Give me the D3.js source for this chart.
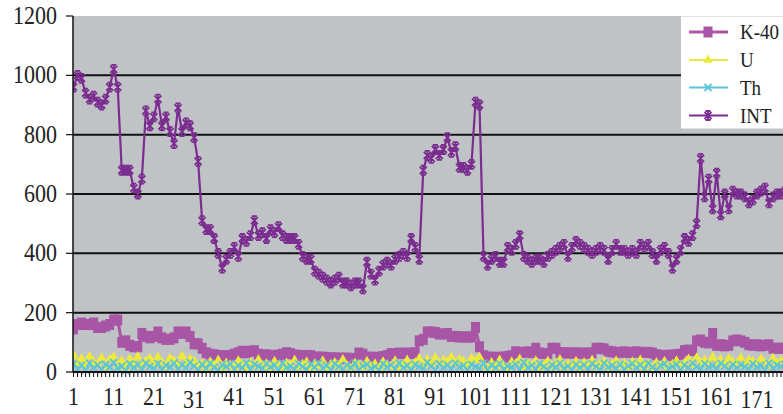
<!DOCTYPE html>
<html>
<head>
<meta charset="utf-8">
<script src="https://cdn.jsdelivr.net/npm/d3@7"></script>
<style>
  body { margin: 0; background: #fff; }
  svg { display: block; }
  text { font-family: "Liberation Serif", "Times New Roman", serif; fill: #222; }
</style>
</head>
<body>
<div id="chart"></div>
<script>
// sample numbers 1..178 (the chart is cut off on the right)
const categories = d3.range(1, 179);

const k40 = [
  145,160,165,160,160,165,150,150,155,160,
  175,175,100,105,90,85,85,130,120,115,
  120,135,115,110,110,115,135,130,135,120,
  95,95,80,65,60,58,55,55,55,55,
  60,65,70,65,70,72,60,55,58,56,
  55,57,60,65,62,57,56,55,56,55,
  50,50,50,48,48,47,47,46,47,45,
  46,64,60,50,50,48,50,52,55,62,
  62,64,62,64,62,65,105,110,135,135,
  133,128,128,130,120,120,118,118,118,118,
  150,85,55,50,50,48,50,50,52,55,
  68,66,66,68,65,80,64,62,62,80,
  80,65,65,64,64,64,64,62,64,64,
  80,80,78,70,68,66,66,68,66,66,
  68,66,66,66,64,58,56,56,56,57,
  58,60,72,74,72,105,108,100,98,130,
  90,92,88,90,105,108,105,100,92,90,
  92,88,90,92,80,80,80,80
];

const uVals = [
  58,30,45,22,52,34,26,48,18,42,
  50,24,38,15,44,28,52,20,36,46,
  25,50,32,18,46,38,22,54,30,44,
  36,20,28,12,34,22,40,14,30,24,
  16,38,26,10,32,20,42,18,28,12,
  36,22,14,30,24,40,16,26,34,12,
  28,20,38,14,26,32,18,42,22,12,
  30,24,16,36,20,28,14,34,24,18,
  38,14,26,40,20,32,46,24,42,30,
  48,26,40,34,50,28,44,36,22,46,
  38,50,24,14,32,18,40,22,12,34,
  28,44,16,30,20,38,14,26,36,18,
  30,42,16,28,22,36,12,32,24,40,
  18,28,36,14,26,38,20,30,16,34,
  24,40,18,28,12,32,22,36,16,26,
  38,20,30,44,24,48,32,40,26,50,
  30,42,24,46,34,28,48,22,40,36,
  26,44,32,20,46,30,38,24
];

const thVals = [
  28,10,22,6,30,14,24,8,26,16,
  32,12,20,5,27,15,25,9,30,18,
  12,28,8,22,16,30,10,24,14,32,
  20,8,26,12,30,16,6,24,18,28,
  10,22,14,30,8,26,18,12,28,16,
  24,6,30,14,20,10,28,18,8,26,
  16,30,12,22,6,28,18,10,24,14,
  30,8,20,26,12,18,6,28,16,24,
  10,30,14,22,8,26,18,12,32,20,
  6,28,14,24,10,30,16,22,8,26,
  18,12,30,6,24,14,28,10,20,16,
  26,8,32,14,22,10,28,18,6,24,
  16,30,12,20,8,26,14,24,10,28,
  18,6,30,16,22,12,26,8,20,28,
  14,24,10,30,16,6,22,28,12,18,
  26,8,24,14,30,18,10,28,16,22,
  12,30,20,8,26,14,24,18,10,28,
  16,22,6,30,12,24,18,26
];

const intVals = [
  960,1000,990,940,920,930,910,900,920,960,
  1020,960,680,680,680,620,600,650,880,830,
  860,920,830,860,810,770,890,810,840,830,
  790,710,510,480,480,450,400,350,380,400,
  420,390,450,440,460,510,460,470,450,480,
  470,490,460,450,450,450,430,390,380,380,
  340,330,320,310,300,310,320,300,300,290,
  300,300,280,370,330,310,340,360,370,360,
  380,390,400,390,450,420,380,680,730,720,
  750,730,750,790,740,760,690,690,680,700,
  910,900,390,360,380,390,370,370,420,410,
  430,460,390,380,370,380,380,370,390,400,
  410,420,430,390,420,440,430,420,410,400,
  410,420,410,380,410,430,410,410,400,410,
  400,430,420,430,400,380,410,420,400,350,
  380,410,450,440,460,500,720,590,650,550,
  670,530,600,550,610,600,600,590,570,580,
  600,610,620,570,590,600,600,610
];

const yTicks = [0, 200, 400, 600, 800, 1000, 1200];
const gridValues = [200, 400, 600, 800, 1000];
const xTickLabels = [1, 11, 21, 31, 41, 51, 61, 71, 81, 91, 101, 111, 121, 131, 141, 151, 161, 171];
const seriesNames = ["K-40", "U", "Th", "INT"];

const width = 783, height = 414;
const plotLeft = 73, plotTop = 16, plotRight = 783, plotBottom = 372;

const svg = d3.select("#chart").append("svg")
    .attr("width", width)
    .attr("height", height);

let x = d3.scalePoint()
    .domain(categories)
    .range([73.5, 73.5 + 177 * 4.02]);

let y = d3.scaleLinear()
    .domain([0, 1200])
    .range([plotBottom, plotTop]);

// gray plot area
svg.append("rect")
    .attr("x", plotLeft).attr("y", plotTop)
    .attr("width", plotRight - plotLeft).attr("height", plotBottom - plotTop)
    .attr("fill", "#c0c3c6");

svg.append("g").selectAll("line")
    .data(gridValues)
    .enter().append("line")
    .attr("x1", plotLeft).attr("x2", plotRight)
    .attr("y1", d => y(d)).attr("y2", d => y(d))
    .attr("stroke", "#111")
    .attr("stroke-width", 2);

// series
let series = [
    {name: "K-40", values: k40, color: "#a855a6", width: 3, marker: "square"},
    {name: "U", values: uVals, color: "#eeea3a", width: 1.8, marker: "triangle"},
    {name: "Th", values: thVals, color: "#5bc6d6", width: 1.8, marker: "cross"},
    {name: "INT", values: intVals, color: "#7b2d90", width: 2.2, marker: "star"}
];

function markerPath(type) {
    if (type === "square") return "M-4.5,-5.5H4.5V5.5H-4.5Z";
    if (type === "triangle") return d3.symbol().type(d3.symbolTriangle).size(40)();
    if (type === "cross") return "M-3.5,-3.5L3.5,3.5M-3.5,3.5L3.5,-3.5";
    return "M-3.5,-3.5L3.5,3.5M-3.5,3.5L3.5,-3.5M0,-4.5V4.5M-2.5,-4.5H2.5M-2.5,4.5H2.5";
}

svg.append("clipPath").attr("id", "plotclip")
    .append("rect")
    .attr("x", plotLeft).attr("y", 0)
    .attr("width", plotRight - plotLeft).attr("height", plotBottom + 6);

let plotG = svg.append("g").attr("clip-path", "url(#plotclip)");

series.forEach(function (s) {
    let line = d3.line()
        .x((d, i) => x(categories[i]))
        .y(d => y(d));

    plotG.append("path")
        .datum(s.values)
        .attr("fill", "none")
        .attr("stroke", s.color)
        .attr("stroke-width", s.width)
        .attr("d", line);

    let filled = s.marker === "square" || s.marker === "triangle";
    plotG.append("g").selectAll("path")
        .data(s.values)
        .enter().append("path")
        .attr("transform", (d, i) => "translate(" + x(categories[i]) + "," + y(d) + ")")
        .attr("d", markerPath(s.marker))
        .attr("fill", filled ? s.color : "none")
        .attr("stroke", s.color)
        .attr("stroke-width", filled ? 0 : 1.8);
});

// axes
svg.append("line")
    .attr("x1", plotLeft).attr("x2", plotLeft)
    .attr("y1", plotTop).attr("y2", plotBottom)
    .attr("stroke", "#111").attr("stroke-width", 1.5);

svg.append("line")
    .attr("x1", plotLeft).attr("x2", plotRight)
    .attr("y1", plotBottom).attr("y2", plotBottom)
    .attr("stroke", "#111").attr("stroke-width", 2);

let yAxis = svg.append("g");
yAxis.selectAll("line")
    .data(yTicks)
    .enter().append("line")
    .attr("x1", plotLeft - 7).attr("x2", plotLeft)
    .attr("y1", d => y(d)).attr("y2", d => y(d))
    .attr("stroke", "#111").attr("stroke-width", 1.2);

yAxis.selectAll("text")
    .data(yTicks)
    .enter().append("text")
    .attr("text-anchor", "end")
    .attr("transform", d => "translate(" + (plotLeft - 16) + "," + (y(d) + 8) + ") scale(1,1.1)")
    .style("font-size", "22px")
    .text(d => d);

// small ticks below every sample
svg.append("g").selectAll("line")
    .data(categories)
    .enter().append("line")
    .attr("x1", d => x(d)).attr("x2", d => x(d))
    .attr("y1", plotBottom).attr("y2", plotBottom + 5)
    .attr("stroke", "#111").attr("stroke-width", 1);

const lowered = [31, 171];
svg.append("g").selectAll("text")
    .data(xTickLabels)
    .enter().append("text")
    .attr("text-anchor", "middle")
    .attr("transform", d => "translate(" + x(d) + "," + (lowered.includes(d) ? 408 : 404.5) + ") scale(1,1.1)")
    .style("font-size", "22px")
    .text(d => d);

// legend
let legend = svg.append("g");
legend.append("rect")
    .attr("x", 681).attr("y", plotTop + 0.5)
    .attr("width", 110).attr("height", 112)
    .attr("fill", "#fff");

let rowY = [32, 60, 87.5, 115.5];
series.forEach(function (s, i) {
    let g = legend.append("g").attr("transform", "translate(0," + rowY[i] + ")");
    g.append("line")
        .attr("x1", 689).attr("x2", 728)
        .attr("stroke", s.color).attr("stroke-width", s.width);
    let filled = s.marker === "square" || s.marker === "triangle";
    g.append("path")
        .attr("transform", "translate(708,0)")
        .attr("d", markerPath(s.marker))
        .attr("fill", filled ? s.color : "none")
        .attr("stroke", s.color)
        .attr("stroke-width", filled ? 0 : 1.8);
    g.append("text")
        .attr("transform", "translate(740,7) scale(1,1.12)")
        .style("font-size", "19px")
        .text(seriesNames[i]);
});
</script>
</body>
</html>
